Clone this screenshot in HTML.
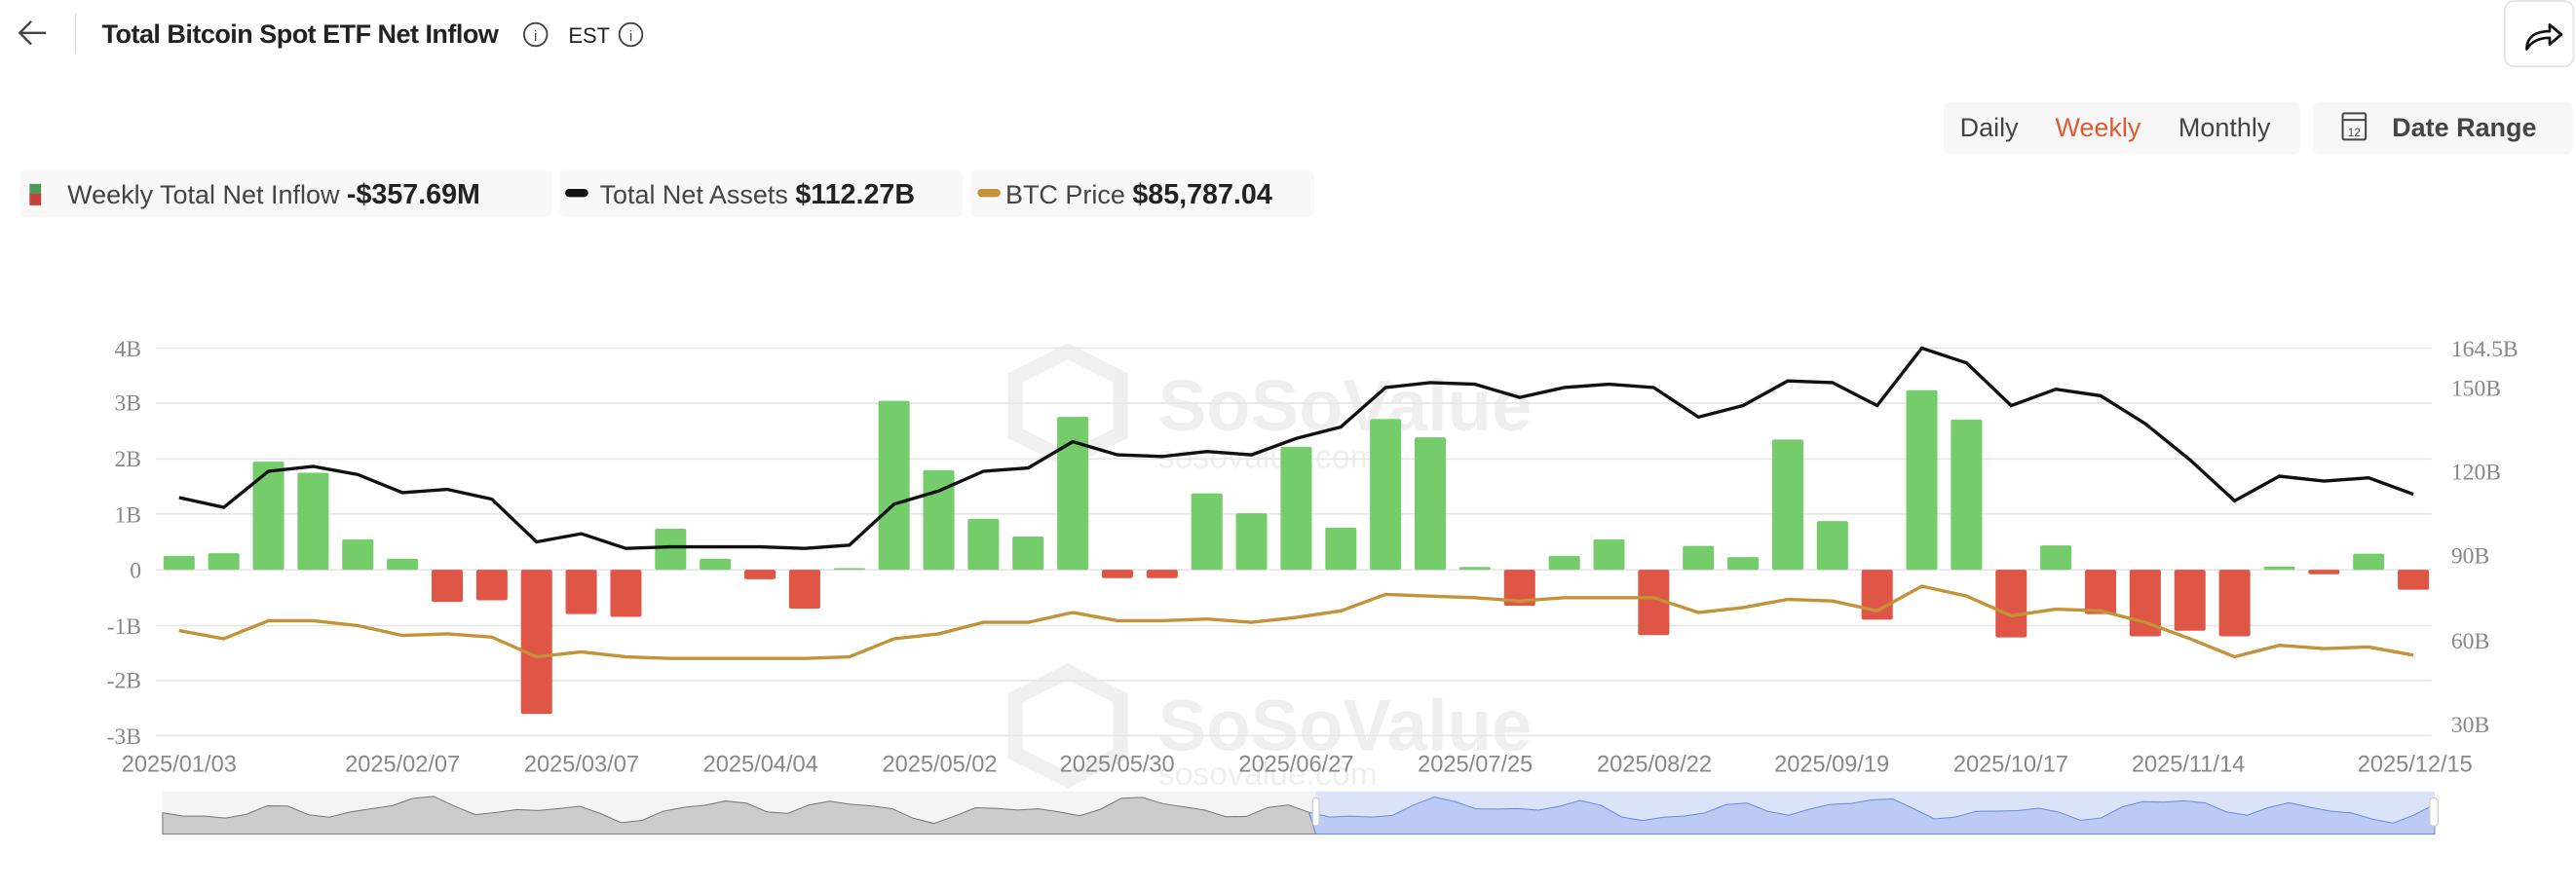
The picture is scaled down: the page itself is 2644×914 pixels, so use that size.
<!DOCTYPE html>
<html><head><meta charset="utf-8">
<style>
html,body{margin:0;padding:0;background:#fff;width:2644px;height:914px;overflow:hidden}
svg{display:block}
.t{font-family:"Liberation Sans",sans-serif}
.ax{font-family:"Liberation Serif",serif;fill:#888;font-size:14px}
.xl{font-family:"Liberation Sans",sans-serif;fill:#888;font-size:14px}
</style></head><body>
<svg id="s" width="2644" height="914" viewBox="0 0 1568 542" xmlns="http://www.w3.org/2000/svg">
<path d="M28 20 H12 M19 13 L12 20 L19 27" stroke="#444" stroke-width="1.4" fill="none"/>
<line x1="46" y1="8" x2="46" y2="33" stroke="#ddd"/>
<text x="62" y="26" class="t" font-size="16" font-weight="bold" fill="#222" letter-spacing="-0.3">Total Bitcoin Spot ETF Net Inflow</text>
<circle cx="326" cy="21" r="7" fill="none" stroke="#444" stroke-width="1.1"/><text x="326" y="25" class="t" font-size="9" fill="#444" text-anchor="middle">i</text>
<text x="346" y="26" class="t" font-size="13" fill="#222">EST</text>
<circle cx="384" cy="21" r="7" fill="none" stroke="#444" stroke-width="1.1"/><text x="384" y="25" class="t" font-size="9" fill="#444" text-anchor="middle">i</text>
<rect x="1524.5" y="0.5" width="42" height="40" rx="6" fill="#fff" stroke="#e2e2e2"/>
<path d="M1538 30 C1538 22 1544 19 1552 19 L1552 15 L1559 21 L1552 27 L1552 23 C1546 23 1541 25 1538 30 Z" fill="none" stroke="#111" stroke-width="1.6" stroke-linejoin="round"/>
<rect x="1183" y="62" width="217" height="32" rx="4" fill="#f7f7f7"/>
<text x="1193" y="83" class="t" font-size="16" fill="#444">Daily</text>
<text x="1251" y="83" class="t" font-size="16" fill="#e05a35">Weekly</text>
<text x="1326" y="83" class="t" font-size="16" fill="#444">Monthly</text>
<rect x="1408" y="62" width="158" height="32" rx="4" fill="#f7f7f7"/>
<rect x="1426" y="69" width="14" height="16" rx="1" fill="none" stroke="#444" stroke-width="1.2"/>
<line x1="1426" y1="73" x2="1440" y2="73" stroke="#444" stroke-width="1.2"/>
<text x="1433" y="83" class="t" font-size="7" fill="#444" text-anchor="middle">12</text>
<text x="1456" y="83" class="t" font-size="16" font-weight="bold" fill="#444">Date Range</text>
<rect x="12" y="104" width="324" height="28" rx="3" fill="#f8f8f8"/>
<rect x="18" y="112" width="7" height="6" fill="#4c9a5a"/><rect x="18" y="118" width="7" height="7" fill="#c8403a"/>
<text x="41" y="124" class="t" font-size="16" fill="#444">Weekly Total Net Inflow <tspan font-weight="bold" fill="#222" font-size="17">-$357.69M</tspan></text>
<rect x="341" y="104" width="245" height="28" rx="3" fill="#f8f8f8"/>
<rect x="344" y="115" width="14" height="5" rx="2.5" fill="#111"/>
<text x="365" y="124" class="t" font-size="16" fill="#444">Total Net Assets <tspan font-weight="bold" fill="#222" font-size="17">$112.27B</tspan></text>
<rect x="591" y="104" width="209" height="28" rx="3" fill="#f8f8f8"/>
<rect x="595" y="115" width="14" height="5" rx="2.5" fill="#c49238"/>
<text x="612" y="124" class="t" font-size="16" fill="#444">BTC Price <tspan font-weight="bold" fill="#222" font-size="17">$85,787.04</tspan></text>
<g opacity="0.09" fill="#555">
<path d="M618 230 L650 214 L682 230 L682 264 L650 280 L618 264 Z" fill="none" stroke="#555" stroke-width="9"/>
<text x="705" y="262" class="t" font-size="44" font-weight="bold">SoSoValue</text>
<text x="705" y="285" class="t" font-size="20">sosovalue.com</text>
<path d="M618 425 L650 409 L682 425 L682 459 L650 475 L618 459 Z" fill="none" stroke="#555" stroke-width="9"/>
<text x="705" y="457" class="t" font-size="44" font-weight="bold">SoSoValue</text>
<text x="705" y="478" class="t" font-size="20">sosovalue.com</text>
</g>
<g id="grid" stroke="#e6e6e6" stroke-width="1"></g>
<text class="ax" text-anchor="end">
<tspan x="86" y="217">4B</tspan><tspan x="86" y="250">3B</tspan><tspan x="86" y="284">2B</tspan><tspan x="86" y="318">1B</tspan><tspan x="86" y="352">0</tspan><tspan x="86" y="386">-1B</tspan><tspan x="86" y="419">-2B</tspan><tspan x="86" y="453">-3B</tspan>
</text>
<text class="ax">
<tspan x="1492" y="217">164.5B</tspan><tspan x="1492" y="241">150B</tspan><tspan x="1492" y="292">120B</tspan><tspan x="1492" y="343">90B</tspan><tspan x="1492" y="395">60B</tspan><tspan x="1492" y="446">30B</tspan>
</text>
<text class="xl" text-anchor="middle">
<tspan x="109" y="470">2025/01/03</tspan><tspan x="245" y="470">2025/02/07</tspan><tspan x="354" y="470">2025/03/07</tspan><tspan x="463" y="470">2025/04/04</tspan><tspan x="572" y="470">2025/05/02</tspan><tspan x="680" y="470">2025/05/30</tspan><tspan x="789" y="470">2025/06/27</tspan><tspan x="898" y="470">2025/07/25</tspan><tspan x="1007" y="470">2025/08/22</tspan><tspan x="1115" y="470">2025/09/19</tspan><tspan x="1224" y="470">2025/10/17</tspan><tspan x="1332" y="470">2025/11/14</tspan><tspan x="1470" y="470">2025/12/15</tspan>
</text>
<g id="bars"></g>
<g id="lines"></g>
<rect x="99" y="482" width="702" height="26" fill="#f4f4f4"/>
<rect x="801" y="482" width="681" height="26" fill="#dbe3f8"/>
<g id="nav"></g>
<rect x="1479" y="486" width="5" height="17" rx="2" fill="#fff" stroke="#ccc" stroke-width="0.7"/>
<rect x="799" y="486" width="4" height="17" rx="2" fill="#fff" stroke="#ccc" stroke-width="0.7"/>
</svg>
<script>
var NS="http://www.w3.org/2000/svg";
function el(p,t,a){var e=document.createElementNS(NS,t);for(var k in a)e.setAttribute(k,a[k]);p.appendChild(e);return e;}
var g=document.getElementById('grid');
[212,245.5,279.5,313,347,381,414.5,448].forEach(function(y){el(g,'line',{x1:95,x2:1480,y1:y,y2:y});});
var v=[0.25,0.3,1.95,1.75,0.55,0.2,-0.58,-0.55,-2.6,-0.8,-0.85,0.74,0.2,-0.17,-0.7,0.02,3.05,1.8,0.92,0.6,2.76,-0.15,-0.15,1.38,1.02,2.22,0.76,2.72,2.39,0.05,-0.65,0.25,0.55,-1.18,0.43,0.23,2.35,0.88,-0.9,3.24,2.71,-1.22,0.44,-0.8,-1.2,-1.1,-1.2,0.06,-0.08,0.29,-0.36];
var b=document.getElementById('bars');
var step=(1469-109)/50;
v.forEach(function(d,i){var x=109+i*step;var h=Math.max(Math.abs(d)*33.75,1);
el(b,'rect',{x:x-9.5,width:19,y:d>=0?347-h:347,height:h,rx:1.2,fill:d>=0?'#74cc6a':'#e05646'});});
var bl=[303,309,287,284,289,300,298,304,330,325,334,333,333,333,334,332,307,299,287,285,269,277,278,275,277,267,260,236,233,234,242,236,234,236,254,247,232,233,247,212,221,247,237,241,258,280,305,290,293,291,301];
var gl=[384,389,378,378,381,387,386,388,400,397,400,401,401,401,401,400,389,386,379,379,373,378,378,377,379,376,372,362,363,364,366,364,364,364,373,370,365,366,372,357,363,375,371,372,379,389,400,393,395,394,399];
function pts(a){return a.map(function(y,i){return (109+i*step).toFixed(1)+','+y;}).join(' ');}
var L=document.getElementById('lines');
el(L,'polyline',{points:pts(gl),fill:'none',stroke:'#c49238','stroke-width':2});
el(L,'polyline',{points:pts(bl),fill:'none',stroke:'#111','stroke-width':2});
var nv=[];for(var i=0;i<110;i++){nv.push(493+4*Math.sin(i*0.9)+3*Math.sin(i*0.37)+2*Math.cos(i*1.7));}
var N=document.getElementById('nav');
var dx=(1482-99)/(nv.length-1);
var left=[],right=[];
nv.forEach(function(y,i){var x=99+i*dx;if(x<=801)left.push(x.toFixed(1)+','+y.toFixed(1));if(x>=795)right.push(x.toFixed(1)+','+y.toFixed(1));});
el(N,'polygon',{points:'99,508 '+left.join(' ')+' 801,508',fill:'#cccccc',stroke:'#777','stroke-width':0.6});
el(N,'polygon',{points:'801,508 '+right.join(' ')+' 1482,508',fill:'#bccbf3',stroke:'#6a88e0','stroke-width':0.6});
</script>
</body></html>
